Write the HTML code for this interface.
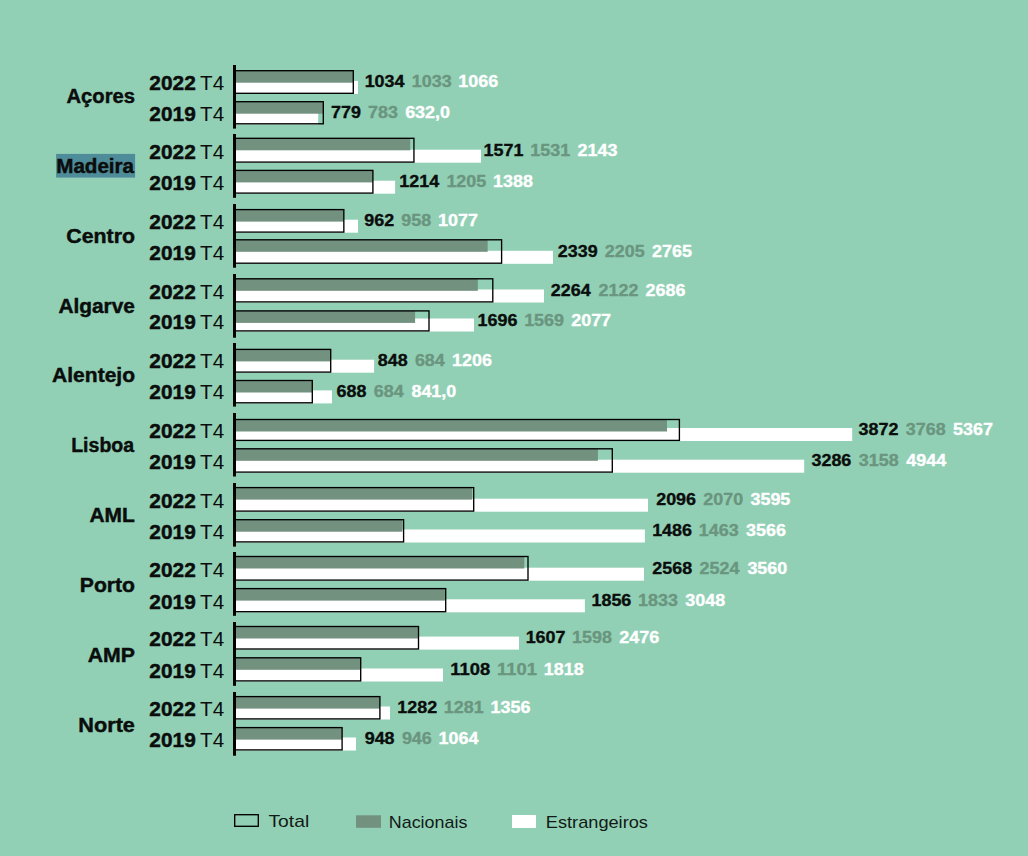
<!DOCTYPE html>
<html><head><meta charset="utf-8"><style>
html,body{margin:0;padding:0;background:#92d0b6;width:1028px;height:856px;overflow:hidden}
svg{display:block}
text{font-family:"Liberation Sans",sans-serif}
.yb{font-size:19.8px;font-weight:bold;fill:#0a0d0b;stroke:#0a0d0b;stroke-width:0.45px}
.yr{font-size:19.8px;fill:#0a0d0b}
.reg{font-size:20px;font-weight:bold;fill:#0a0d0b;stroke:#0a0d0b;stroke-width:0.45px}
.val{font-size:16.9px;font-weight:bold;stroke-width:0.35px}
.leg{font-size:17px;fill:#111a15}
</style></head><body>
<svg width="1028" height="856" viewBox="0 0 1028 856">
<rect width="1028" height="856" fill="#92d0b6"/>
<rect x="235" y="80.90" width="123.00" height="13" fill="#fff"/>
<rect x="235" y="70.60" width="117.99" height="12.1" fill="#72917f"/>
<rect x="235" y="70.70" width="118.30" height="22.60" fill="none" stroke="#000" stroke-width="1.35"/>
<text x="149.38" y="89.80" class="yb" textLength="46.46" lengthAdjust="spacingAndGlyphs">2022</text>
<text x="200.14" y="89.80" class="yr" textLength="24.07" lengthAdjust="spacingAndGlyphs">T4</text>
<text x="364.67" y="87.30" class="val" fill="#0a0d0b" stroke="#0a0d0b" textLength="39.85" lengthAdjust="spacingAndGlyphs">1034</text>
<text x="411.80" y="87.30" class="val" fill="#6a957e" stroke="#6a957e" textLength="39.85" lengthAdjust="spacingAndGlyphs">1033</text>
<text x="458.37" y="87.30" class="val" fill="#ffffff" stroke="#ffffff" textLength="39.85" lengthAdjust="spacingAndGlyphs">1066</text>
<rect x="235" y="111.40" width="83.20" height="13" fill="#fff"/>
<rect x="235" y="101.60" width="88.30" height="12.1" fill="#72917f"/>
<rect x="235" y="101.70" width="88.30" height="22.10" fill="none" stroke="#000" stroke-width="1.35"/>
<text x="149.38" y="120.70" class="yb" textLength="46.40" lengthAdjust="spacingAndGlyphs">2019</text>
<text x="200.14" y="120.70" class="yr" textLength="24.07" lengthAdjust="spacingAndGlyphs">T4</text>
<text x="331.13" y="118.20" class="val" fill="#0a0d0b" stroke="#0a0d0b" textLength="29.89" lengthAdjust="spacingAndGlyphs">779</text>
<text x="368.08" y="118.20" class="val" fill="#6a957e" stroke="#6a957e" textLength="29.89" lengthAdjust="spacingAndGlyphs">783</text>
<text x="405.17" y="118.20" class="val" fill="#ffffff" stroke="#ffffff" textLength="44.83" lengthAdjust="spacingAndGlyphs">632,0</text>
<rect x="233" y="65" width="3" height="63.6" fill="#000"/>
<text x="66.50" y="102.80" class="reg" textLength="68.53" lengthAdjust="spacingAndGlyphs">Açores</text>
<rect x="235" y="149.70" width="246.00" height="13" fill="#fff"/>
<rect x="235" y="138.20" width="175.21" height="12.1" fill="#72917f"/>
<rect x="235" y="138.30" width="178.94" height="23.80" fill="none" stroke="#000" stroke-width="1.35"/>
<text x="149.38" y="158.70" class="yb" textLength="46.46" lengthAdjust="spacingAndGlyphs">2022</text>
<text x="200.14" y="158.70" class="yr" textLength="24.07" lengthAdjust="spacingAndGlyphs">T4</text>
<text x="483.57" y="156.20" class="val" fill="#0a0d0b" stroke="#0a0d0b" textLength="39.85" lengthAdjust="spacingAndGlyphs">1571</text>
<text x="530.30" y="156.20" class="val" fill="#6a957e" stroke="#6a957e" textLength="39.85" lengthAdjust="spacingAndGlyphs">1531</text>
<text x="577.53" y="156.20" class="val" fill="#ffffff" stroke="#ffffff" textLength="39.85" lengthAdjust="spacingAndGlyphs">2143</text>
<rect x="235" y="180.70" width="160.10" height="13" fill="#fff"/>
<rect x="235" y="170.30" width="137.75" height="12.1" fill="#72917f"/>
<rect x="235" y="170.40" width="137.90" height="22.70" fill="none" stroke="#000" stroke-width="1.35"/>
<text x="149.38" y="189.50" class="yb" textLength="46.40" lengthAdjust="spacingAndGlyphs">2019</text>
<text x="200.14" y="189.50" class="yr" textLength="24.07" lengthAdjust="spacingAndGlyphs">T4</text>
<text x="399.27" y="187.00" class="val" fill="#0a0d0b" stroke="#0a0d0b" textLength="39.85" lengthAdjust="spacingAndGlyphs">1214</text>
<text x="446.40" y="187.00" class="val" fill="#6a957e" stroke="#6a957e" textLength="39.85" lengthAdjust="spacingAndGlyphs">1205</text>
<text x="493.12" y="187.00" class="val" fill="#ffffff" stroke="#ffffff" textLength="39.85" lengthAdjust="spacingAndGlyphs">1388</text>
<rect x="233" y="134" width="3" height="63.8" fill="#000"/>
<rect x="56.1" y="153.9" width="79" height="23.7" fill="#4f8c9a"/>
<text x="56.22" y="172.90" class="reg" textLength="77.85" lengthAdjust="spacingAndGlyphs">Madeira</text>
<rect x="235" y="219.70" width="123.00" height="13" fill="#fff"/>
<rect x="235" y="209.50" width="108.84" height="12.1" fill="#72917f"/>
<rect x="235" y="209.60" width="108.84" height="22.50" fill="none" stroke="#000" stroke-width="1.35"/>
<text x="149.38" y="228.70" class="yb" textLength="46.46" lengthAdjust="spacingAndGlyphs">2022</text>
<text x="200.14" y="228.70" class="yr" textLength="24.07" lengthAdjust="spacingAndGlyphs">T4</text>
<text x="364.28" y="226.20" class="val" fill="#0a0d0b" stroke="#0a0d0b" textLength="29.89" lengthAdjust="spacingAndGlyphs">962</text>
<text x="401.33" y="226.20" class="val" fill="#6a957e" stroke="#6a957e" textLength="29.89" lengthAdjust="spacingAndGlyphs">958</text>
<text x="438.04" y="226.20" class="val" fill="#ffffff" stroke="#ffffff" textLength="39.85" lengthAdjust="spacingAndGlyphs">1077</text>
<rect x="235" y="250.80" width="318.00" height="13" fill="#fff"/>
<rect x="235" y="239.70" width="252.65" height="12.1" fill="#72917f"/>
<rect x="235" y="239.80" width="266.60" height="23.40" fill="none" stroke="#000" stroke-width="1.35"/>
<text x="149.38" y="259.70" class="yb" textLength="46.40" lengthAdjust="spacingAndGlyphs">2019</text>
<text x="200.14" y="259.70" class="yr" textLength="24.07" lengthAdjust="spacingAndGlyphs">T4</text>
<text x="557.78" y="257.20" class="val" fill="#0a0d0b" stroke="#0a0d0b" textLength="39.85" lengthAdjust="spacingAndGlyphs">2339</text>
<text x="604.84" y="257.20" class="val" fill="#6a957e" stroke="#6a957e" textLength="39.85" lengthAdjust="spacingAndGlyphs">2205</text>
<text x="652.08" y="257.20" class="val" fill="#ffffff" stroke="#ffffff" textLength="39.85" lengthAdjust="spacingAndGlyphs">2765</text>
<rect x="233" y="204" width="3" height="63.7" fill="#000"/>
<text x="66.33" y="242.80" class="reg" textLength="68.71" lengthAdjust="spacingAndGlyphs">Centro</text>
<rect x="235" y="289.50" width="309.00" height="13" fill="#fff"/>
<rect x="235" y="278.70" width="242.80" height="12.1" fill="#72917f"/>
<rect x="235" y="278.80" width="257.80" height="23.10" fill="none" stroke="#000" stroke-width="1.35"/>
<text x="149.38" y="298.60" class="yb" textLength="46.46" lengthAdjust="spacingAndGlyphs">2022</text>
<text x="200.14" y="298.60" class="yr" textLength="24.07" lengthAdjust="spacingAndGlyphs">T4</text>
<text x="550.88" y="296.10" class="val" fill="#0a0d0b" stroke="#0a0d0b" textLength="39.85" lengthAdjust="spacingAndGlyphs">2264</text>
<text x="598.51" y="296.10" class="val" fill="#6a957e" stroke="#6a957e" textLength="39.85" lengthAdjust="spacingAndGlyphs">2122</text>
<text x="645.53" y="296.10" class="val" fill="#ffffff" stroke="#ffffff" textLength="39.85" lengthAdjust="spacingAndGlyphs">2686</text>
<rect x="235" y="318.50" width="239.00" height="13" fill="#fff"/>
<rect x="235" y="310.80" width="180.10" height="12.1" fill="#72917f"/>
<rect x="235" y="310.90" width="194.00" height="20.00" fill="none" stroke="#000" stroke-width="1.35"/>
<text x="149.38" y="328.60" class="yb" textLength="46.40" lengthAdjust="spacingAndGlyphs">2019</text>
<text x="200.14" y="328.60" class="yr" textLength="24.07" lengthAdjust="spacingAndGlyphs">T4</text>
<text x="477.57" y="326.10" class="val" fill="#0a0d0b" stroke="#0a0d0b" textLength="39.85" lengthAdjust="spacingAndGlyphs">1696</text>
<text x="524.15" y="326.10" class="val" fill="#6a957e" stroke="#6a957e" textLength="39.85" lengthAdjust="spacingAndGlyphs">1569</text>
<text x="571.21" y="326.10" class="val" fill="#ffffff" stroke="#ffffff" textLength="39.85" lengthAdjust="spacingAndGlyphs">2077</text>
<rect x="233" y="274" width="3" height="63.7" fill="#000"/>
<text x="58.48" y="312.90" class="reg" textLength="76.43" lengthAdjust="spacingAndGlyphs">Algarve</text>
<rect x="235" y="359.70" width="139.10" height="13" fill="#fff"/>
<rect x="235" y="349.30" width="95.71" height="12.1" fill="#72917f"/>
<rect x="235" y="349.40" width="95.71" height="22.70" fill="none" stroke="#000" stroke-width="1.35"/>
<text x="149.38" y="368.40" class="yb" textLength="46.46" lengthAdjust="spacingAndGlyphs">2022</text>
<text x="200.14" y="368.40" class="yr" textLength="24.07" lengthAdjust="spacingAndGlyphs">T4</text>
<text x="377.73" y="365.90" class="val" fill="#0a0d0b" stroke="#0a0d0b" textLength="29.89" lengthAdjust="spacingAndGlyphs">848</text>
<text x="414.91" y="365.90" class="val" fill="#6a957e" stroke="#6a957e" textLength="29.89" lengthAdjust="spacingAndGlyphs">684</text>
<text x="452.08" y="365.90" class="val" fill="#ffffff" stroke="#ffffff" textLength="39.85" lengthAdjust="spacingAndGlyphs">1206</text>
<rect x="235" y="390.40" width="97.00" height="13" fill="#fff"/>
<rect x="235" y="380.40" width="77.30" height="12.1" fill="#72917f"/>
<rect x="235" y="380.50" width="77.30" height="22.30" fill="none" stroke="#000" stroke-width="1.35"/>
<text x="149.38" y="399.40" class="yb" textLength="46.40" lengthAdjust="spacingAndGlyphs">2019</text>
<text x="200.14" y="399.40" class="yr" textLength="24.07" lengthAdjust="spacingAndGlyphs">T4</text>
<text x="336.54" y="396.90" class="val" fill="#0a0d0b" stroke="#0a0d0b" textLength="29.89" lengthAdjust="spacingAndGlyphs">688</text>
<text x="373.73" y="396.90" class="val" fill="#6a957e" stroke="#6a957e" textLength="29.89" lengthAdjust="spacingAndGlyphs">684</text>
<text x="411.45" y="396.90" class="val" fill="#ffffff" stroke="#ffffff" textLength="44.83" lengthAdjust="spacingAndGlyphs">841,0</text>
<rect x="233" y="343" width="3" height="63.6" fill="#000"/>
<text x="52.08" y="382.00" class="reg" textLength="82.94" lengthAdjust="spacingAndGlyphs">Alentejo</text>
<rect x="235" y="428.00" width="617.20" height="13" fill="#fff"/>
<rect x="235" y="419.40" width="432.00" height="12.1" fill="#72917f"/>
<rect x="235" y="419.50" width="444.40" height="20.90" fill="none" stroke="#000" stroke-width="1.35"/>
<text x="149.38" y="437.50" class="yb" textLength="46.46" lengthAdjust="spacingAndGlyphs">2022</text>
<text x="200.14" y="437.50" class="yr" textLength="24.07" lengthAdjust="spacingAndGlyphs">T4</text>
<text x="858.59" y="435.00" class="val" fill="#0a0d0b" stroke="#0a0d0b" textLength="39.85" lengthAdjust="spacingAndGlyphs">3872</text>
<text x="905.81" y="435.00" class="val" fill="#6a957e" stroke="#6a957e" textLength="39.85" lengthAdjust="spacingAndGlyphs">3768</text>
<text x="953.06" y="435.00" class="val" fill="#ffffff" stroke="#ffffff" textLength="39.85" lengthAdjust="spacingAndGlyphs">5367</text>
<rect x="235" y="459.70" width="569.20" height="13" fill="#fff"/>
<rect x="235" y="448.70" width="362.90" height="12.1" fill="#72917f"/>
<rect x="235" y="448.80" width="377.30" height="23.30" fill="none" stroke="#000" stroke-width="1.35"/>
<text x="149.38" y="468.60" class="yb" textLength="46.40" lengthAdjust="spacingAndGlyphs">2019</text>
<text x="200.14" y="468.60" class="yr" textLength="24.07" lengthAdjust="spacingAndGlyphs">T4</text>
<text x="811.49" y="466.10" class="val" fill="#0a0d0b" stroke="#0a0d0b" textLength="39.85" lengthAdjust="spacingAndGlyphs">3286</text>
<text x="858.78" y="466.10" class="val" fill="#6a957e" stroke="#6a957e" textLength="39.85" lengthAdjust="spacingAndGlyphs">3158</text>
<text x="906.31" y="466.10" class="val" fill="#ffffff" stroke="#ffffff" textLength="39.85" lengthAdjust="spacingAndGlyphs">4944</text>
<rect x="233" y="413" width="3" height="63.5" fill="#000"/>
<text x="71.19" y="451.70" class="reg" textLength="62.88" lengthAdjust="spacingAndGlyphs">Lisboa</text>
<rect x="235" y="498.70" width="413.00" height="13" fill="#fff"/>
<rect x="235" y="487.50" width="237.14" height="12.1" fill="#72917f"/>
<rect x="235" y="487.60" width="238.70" height="23.50" fill="none" stroke="#000" stroke-width="1.35"/>
<text x="149.38" y="507.60" class="yb" textLength="46.46" lengthAdjust="spacingAndGlyphs">2022</text>
<text x="200.14" y="507.60" class="yr" textLength="24.07" lengthAdjust="spacingAndGlyphs">T4</text>
<text x="656.18" y="505.10" class="val" fill="#0a0d0b" stroke="#0a0d0b" textLength="39.85" lengthAdjust="spacingAndGlyphs">2096</text>
<text x="703.26" y="505.10" class="val" fill="#6a957e" stroke="#6a957e" textLength="39.85" lengthAdjust="spacingAndGlyphs">2070</text>
<text x="750.47" y="505.10" class="val" fill="#ffffff" stroke="#ffffff" textLength="39.85" lengthAdjust="spacingAndGlyphs">3595</text>
<rect x="235" y="529.50" width="409.90" height="13" fill="#fff"/>
<rect x="235" y="519.60" width="167.40" height="12.1" fill="#72917f"/>
<rect x="235" y="519.70" width="168.60" height="22.20" fill="none" stroke="#000" stroke-width="1.35"/>
<text x="149.38" y="538.60" class="yb" textLength="46.40" lengthAdjust="spacingAndGlyphs">2019</text>
<text x="200.14" y="538.60" class="yr" textLength="24.07" lengthAdjust="spacingAndGlyphs">T4</text>
<text x="652.17" y="536.10" class="val" fill="#0a0d0b" stroke="#0a0d0b" textLength="39.85" lengthAdjust="spacingAndGlyphs">1486</text>
<text x="698.75" y="536.10" class="val" fill="#6a957e" stroke="#6a957e" textLength="39.85" lengthAdjust="spacingAndGlyphs">1463</text>
<text x="746.04" y="536.10" class="val" fill="#ffffff" stroke="#ffffff" textLength="39.85" lengthAdjust="spacingAndGlyphs">3566</text>
<rect x="233" y="483" width="3" height="63.6" fill="#000"/>
<text x="89.48" y="522.00" class="reg" textLength="45.37" lengthAdjust="spacingAndGlyphs">AML</text>
<rect x="235" y="567.70" width="409.00" height="13" fill="#fff"/>
<rect x="235" y="556.40" width="289.31" height="12.1" fill="#72917f"/>
<rect x="235" y="556.50" width="293.00" height="23.60" fill="none" stroke="#000" stroke-width="1.35"/>
<text x="149.38" y="576.60" class="yb" textLength="46.46" lengthAdjust="spacingAndGlyphs">2022</text>
<text x="200.14" y="576.60" class="yr" textLength="24.07" lengthAdjust="spacingAndGlyphs">T4</text>
<text x="652.38" y="574.10" class="val" fill="#0a0d0b" stroke="#0a0d0b" textLength="39.85" lengthAdjust="spacingAndGlyphs">2568</text>
<text x="699.56" y="574.10" class="val" fill="#6a957e" stroke="#6a957e" textLength="39.85" lengthAdjust="spacingAndGlyphs">2524</text>
<text x="747.40" y="574.10" class="val" fill="#ffffff" stroke="#ffffff" textLength="39.85" lengthAdjust="spacingAndGlyphs">3560</text>
<rect x="235" y="599.30" width="349.90" height="13" fill="#fff"/>
<rect x="235" y="588.50" width="209.91" height="12.1" fill="#72917f"/>
<rect x="235" y="588.60" width="210.70" height="23.10" fill="none" stroke="#000" stroke-width="1.35"/>
<text x="149.38" y="608.60" class="yb" textLength="46.40" lengthAdjust="spacingAndGlyphs">2019</text>
<text x="200.14" y="608.60" class="yr" textLength="24.07" lengthAdjust="spacingAndGlyphs">T4</text>
<text x="591.47" y="606.10" class="val" fill="#0a0d0b" stroke="#0a0d0b" textLength="39.85" lengthAdjust="spacingAndGlyphs">1856</text>
<text x="638.05" y="606.10" class="val" fill="#6a957e" stroke="#6a957e" textLength="39.85" lengthAdjust="spacingAndGlyphs">1833</text>
<text x="685.34" y="606.10" class="val" fill="#ffffff" stroke="#ffffff" textLength="39.85" lengthAdjust="spacingAndGlyphs">3048</text>
<rect x="233" y="552" width="3" height="63.8" fill="#000"/>
<text x="79.78" y="591.70" class="reg" textLength="55.24" lengthAdjust="spacingAndGlyphs">Porto</text>
<rect x="235" y="636.60" width="284.00" height="13" fill="#fff"/>
<rect x="235" y="626.40" width="182.91" height="12.1" fill="#72917f"/>
<rect x="235" y="626.50" width="183.50" height="22.50" fill="none" stroke="#000" stroke-width="1.35"/>
<text x="149.38" y="645.50" class="yb" textLength="46.46" lengthAdjust="spacingAndGlyphs">2022</text>
<text x="200.14" y="645.50" class="yr" textLength="24.07" lengthAdjust="spacingAndGlyphs">T4</text>
<text x="525.67" y="643.00" class="val" fill="#0a0d0b" stroke="#0a0d0b" textLength="39.85" lengthAdjust="spacingAndGlyphs">1607</text>
<text x="572.11" y="643.00" class="val" fill="#6a957e" stroke="#6a957e" textLength="39.85" lengthAdjust="spacingAndGlyphs">1598</text>
<text x="619.29" y="643.00" class="val" fill="#ffffff" stroke="#ffffff" textLength="39.85" lengthAdjust="spacingAndGlyphs">2476</text>
<rect x="235" y="668.50" width="208.00" height="13" fill="#fff"/>
<rect x="235" y="657.70" width="125.70" height="12.1" fill="#72917f"/>
<rect x="235" y="657.80" width="125.70" height="23.10" fill="none" stroke="#000" stroke-width="1.35"/>
<text x="149.38" y="677.60" class="yb" textLength="46.40" lengthAdjust="spacingAndGlyphs">2019</text>
<text x="200.14" y="677.60" class="yr" textLength="24.07" lengthAdjust="spacingAndGlyphs">T4</text>
<text x="450.37" y="675.10" class="val" fill="#0a0d0b" stroke="#0a0d0b" textLength="39.85" lengthAdjust="spacingAndGlyphs">1108</text>
<text x="497.04" y="675.10" class="val" fill="#6a957e" stroke="#6a957e" textLength="39.85" lengthAdjust="spacingAndGlyphs">1101</text>
<text x="543.77" y="675.10" class="val" fill="#ffffff" stroke="#ffffff" textLength="39.85" lengthAdjust="spacingAndGlyphs">1818</text>
<rect x="233" y="622" width="3" height="63.8" fill="#000"/>
<text x="87.67" y="662.00" class="reg" textLength="47.26" lengthAdjust="spacingAndGlyphs">AMP</text>
<rect x="235" y="706.50" width="155.00" height="13" fill="#fff"/>
<rect x="235" y="696.50" width="144.90" height="12.1" fill="#72917f"/>
<rect x="235" y="696.60" width="144.90" height="22.30" fill="none" stroke="#000" stroke-width="1.35"/>
<text x="149.38" y="715.60" class="yb" textLength="46.46" lengthAdjust="spacingAndGlyphs">2022</text>
<text x="200.14" y="715.60" class="yr" textLength="24.07" lengthAdjust="spacingAndGlyphs">T4</text>
<text x="397.27" y="713.10" class="val" fill="#0a0d0b" stroke="#0a0d0b" textLength="39.85" lengthAdjust="spacingAndGlyphs">1282</text>
<text x="443.78" y="713.10" class="val" fill="#6a957e" stroke="#6a957e" textLength="39.85" lengthAdjust="spacingAndGlyphs">1281</text>
<text x="490.50" y="713.10" class="val" fill="#ffffff" stroke="#ffffff" textLength="39.85" lengthAdjust="spacingAndGlyphs">1356</text>
<rect x="235" y="737.50" width="121.00" height="13" fill="#fff"/>
<rect x="235" y="727.50" width="107.10" height="12.1" fill="#72917f"/>
<rect x="235" y="727.60" width="107.10" height="22.30" fill="none" stroke="#000" stroke-width="1.35"/>
<text x="149.38" y="746.60" class="yb" textLength="46.40" lengthAdjust="spacingAndGlyphs">2019</text>
<text x="200.14" y="746.60" class="yr" textLength="24.07" lengthAdjust="spacingAndGlyphs">T4</text>
<text x="364.68" y="744.10" class="val" fill="#0a0d0b" stroke="#0a0d0b" textLength="29.89" lengthAdjust="spacingAndGlyphs">948</text>
<text x="401.90" y="744.10" class="val" fill="#6a957e" stroke="#6a957e" textLength="29.89" lengthAdjust="spacingAndGlyphs">946</text>
<text x="438.51" y="744.10" class="val" fill="#ffffff" stroke="#ffffff" textLength="39.85" lengthAdjust="spacingAndGlyphs">1064</text>
<rect x="233" y="692" width="3" height="63.7" fill="#000"/>
<text x="78.35" y="731.70" class="reg" textLength="56.59" lengthAdjust="spacingAndGlyphs">Norte</text>
<rect x="234.7" y="814.7" width="23.6" height="11.6" fill="none" stroke="#000" stroke-width="1.35"/>
<text x="268.49" y="826.80" class="leg" textLength="40.74" lengthAdjust="spacingAndGlyphs">Total</text>
<rect x="356" y="815.3" width="25" height="12.5" fill="#72917f"/>
<text x="388.83" y="828.30" class="leg" textLength="78.51" lengthAdjust="spacingAndGlyphs">Nacionais</text>
<rect x="512" y="815" width="24" height="13" fill="#fff"/>
<text x="545.81" y="828.30" class="leg" textLength="102.15" lengthAdjust="spacingAndGlyphs">Estrangeiros</text>
</svg>
</body></html>
